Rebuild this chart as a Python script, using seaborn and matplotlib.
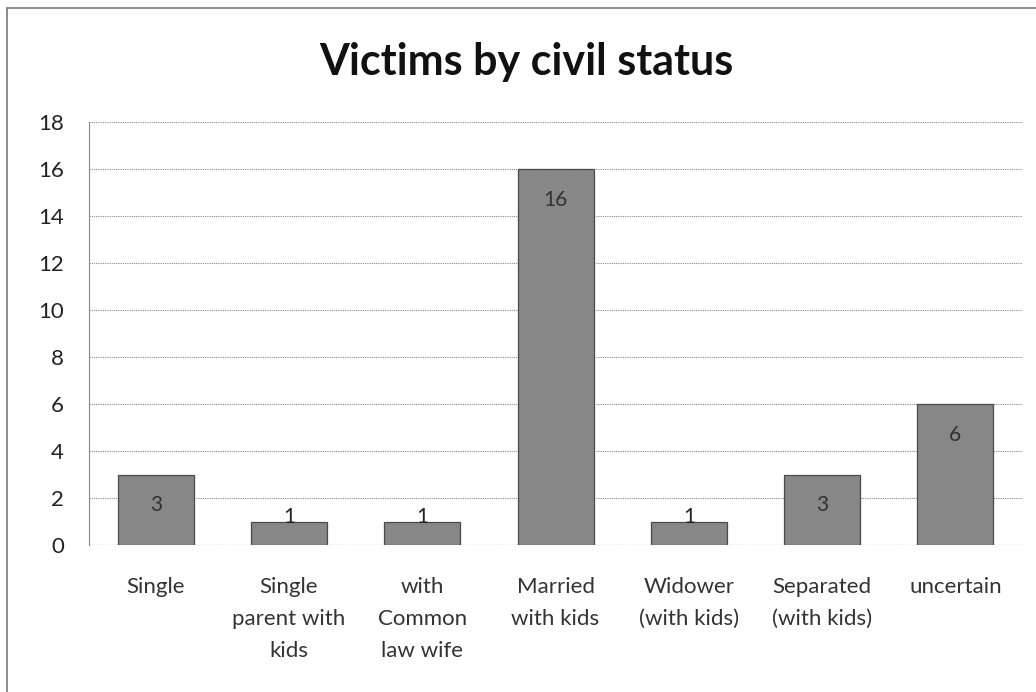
import matplotlib
matplotlib.use("Agg")
import matplotlib.pyplot as plt
import seaborn as sns
import pandas as pd
from matplotlib.lines import Line2D

# data
categories = ["Single", "Single\nparent with\nkids", "with\nCommon\nlaw wife",
              "Married\nwith kids", "Widower\n(with kids)", "Separated\n(with kids)",
              "uncertain"]
victims = [3, 1, 1, 16, 1, 3, 6]
y_ticks = [0, 2, 4, 6, 8, 10, 12, 14, 16, 18]

df = pd.DataFrame({"status": categories, "victims": victims})

sns.set_style("white")
plt.rcParams["font.family"] = ["Lato", "DejaVu Sans"]

fig = plt.figure(figsize=(10.36, 6.92), dpi=100)
ax = fig.add_axes([0.086, 0.2124, 0.9005, 0.6113])

sns.barplot(data=df, x="status", y="victims", color="#878787",
            edgecolor="#4a4a4a", linewidth=0.9, width=0.57, saturation=1, ax=ax)

# dotted grid lines, like the scanned excel chart
ax.set_ylim(0, 18)
ax.set_yticks(y_ticks)
ax.yaxis.grid(True, linestyle=(0, (1, 1)), color="#888888", linewidth=0.8)
ax.set_axisbelow(True)
for s in ["top", "right", "bottom"]:
    ax.spines[s].set_visible(False)
ax.spines["left"].set_linestyle((0, (1, 1)))
ax.spines["left"].set_color("#888888")
ax.axhline(0, color="#888888", linestyle=(0, (1, 1)), linewidth=0.8, zorder=1)

ax.set_xlabel("")
ax.set_ylabel("")
ax.set_xticks(range(len(categories)), categories, linespacing=1.75)
ax.tick_params(axis="y", labelsize=16, pad=18, length=0, colors="#222222")
ax.tick_params(axis="x", labelsize=16, pad=23, length=0, colors="#333333")

# value labels near the top of each bar
for i, v in enumerate(victims):
    if v >= 2:
        ax.annotate(str(v), (i, v), xytext=(0, -22), textcoords="offset points",
                    ha="center", va="center", fontsize=15, color="#333333")
    else:
        ax.annotate(str(v), (i, v), xytext=(0, 3), textcoords="offset points",
                    ha="center", va="center", fontsize=15, color="#222222")

fig.text(0.508, 0.8916, "Victims by civil status", fontsize=31, fontweight="bold",
         ha="center", va="baseline", color="#111111")

# frame edges visible in the scan (top and left only)
fig.add_artist(Line2D([0.0068, 1.0], [0.9884, 0.9884], transform=fig.transFigure,
                      color="#777777", linewidth=1.2))
fig.add_artist(Line2D([0.0068, 0.0068], [0.0, 0.9884], transform=fig.transFigure,
                      color="#777777", linewidth=1.2))

fig.savefig("out.png", dpi=100)
